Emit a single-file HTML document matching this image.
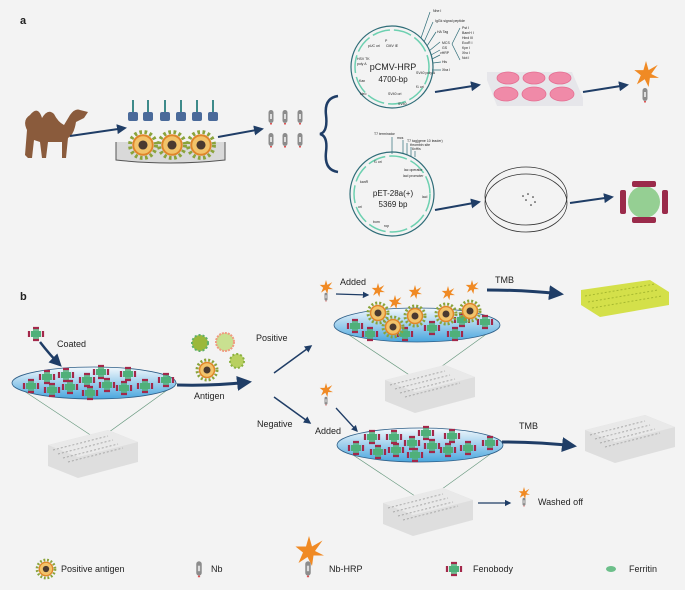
<!DOCTYPE html>
<html><head><meta charset="utf-8"><style>
html,body{margin:0;padding:0;background:#f3f3f3}
svg{display:block}
text{font-family:"Liberation Sans",sans-serif;fill:#222}
</style></head><body>
<svg width="685" height="590" viewBox="0 0 685 590" xmlns="http://www.w3.org/2000/svg">
<defs>
<linearGradient id="blu" x1="0" y1="0" x2="0" y2="1"><stop offset="0" stop-color="#f3f8fc"/><stop offset="1" stop-color="#4aa6de"/></linearGradient>
<marker id="ah" viewBox="0 0 10 10" refX="8" refY="5" markerWidth="5" markerHeight="5" orient="auto"><path d="M0,0 L10,5 L0,10 z" fill="#1f3d66"/></marker>
<g id="feno"><rect x="-5" y="-3" width="10" height="6" fill="#4fb07a"/><rect x="-3" y="-5" width="6" height="10" fill="#4fb07a" opacity=".8"/><path d="M-7,-3v6M7,-3v6M-3,-6h6M-3,6h6" stroke="#a3284a" stroke-width="2.2"/></g>
<g id="ag"><circle r="10" fill="none" stroke="#8aa33a" stroke-width="3" stroke-dasharray="2 2"/><circle r="7.5" fill="#f2c36a" stroke="#e0862a" stroke-width="1.5"/><circle r="3.5" fill="#4a3a30"/></g>
<g id="nb"><rect x="-2.5" y="-7" width="5" height="13" rx="2.5" fill="#8c8c8c"/><rect x="-1" y="-3" width="2" height="5" fill="#ddd"/><rect x="-1" y="6" width="2" height="1.5" fill="#d55"/></g>
<g id="star"><path d="M0,-10 L2,-3 9,-7 4,0 10,3 3,3 2,10 -1,4 -7,8 -4,1 -9,-3 -2,-3z" fill="#f08a24"/></g>
<g id="plate"><path d="M0,15 L60,0 L90,12 L90,32 L30,48 L0,36z" fill="#d8d8d8" opacity=".8"/><path d="M0,15 L60,0 L90,12 L30,27z" fill="#e9e9e9"/><path d="M5,20 l55,-14 M10,24 l55,-14 M15,28 l55,-14 M20,32 l55,-14" stroke="#aaa" stroke-width="1" stroke-dasharray="2 2"/></g>
</defs>

<!-- Panel a -->
<text x="20" y="24" font-size="11" font-weight="bold">a</text>
<!-- camel -->
<path d="M25,155 L27,130 Q22,120 30,115 Q38,105 42,118 Q48,108 54,114 Q58,122 64,125 L70,115 Q75,108 80,110 L88,112 L84,118 L76,122 Q74,135 68,138 L66,158 L62,158 L62,142 L48,142 L46,158 L42,158 L40,142 L34,140 L32,158 L28,158z" fill="#8a5b3c"/>
<line x1="70" y1="136" x2="125" y2="128" stroke="#1f3d66" stroke-width="2" marker-end="url(#ah)"/>
<!-- tray -->
<path d="M116,142 L116,160 Q170,166 225,160 L225,142" fill="#d9d9d9" stroke="#555"/>
<g fill="#4a6a9a"><rect x="128" y="112" width="10" height="9" rx="2"/><rect x="143" y="112" width="10" height="9" rx="2"/><rect x="160" y="112" width="10" height="9" rx="2"/><rect x="176" y="112" width="10" height="9" rx="2"/><rect x="192" y="112" width="10" height="9" rx="2"/><rect x="208" y="112" width="10" height="9" rx="2"/></g>
<g stroke="#3d8a8a" stroke-width="2"><path d="M133,100v12M148,100v12M165,100v12M181,100v12M197,100v12M213,100v12"/></g>
<use href="#ag" transform="translate(143,145) scale(1.3)"/>
<use href="#ag" transform="translate(172,145) scale(1.3)"/>
<use href="#ag" transform="translate(201,145) scale(1.3)"/>
<line x1="218" y1="137" x2="262" y2="129" stroke="#1f3d66" stroke-width="2" marker-end="url(#ah)"/>
<use href="#nb" x="271" y="117"/><use href="#nb" x="285" y="117"/><use href="#nb" x="300" y="117"/>
<use href="#nb" x="271" y="140"/><use href="#nb" x="285" y="140"/><use href="#nb" x="300" y="140"/>
<path d="M338,96 Q324,98 326,115 Q328,132 320,134 Q328,136 326,152 Q324,170 338,172" fill="none" stroke="#1f3d66" stroke-width="2.5"/>
<!-- plasmid 1 -->
<circle cx="392" cy="67" r="41" fill="none" stroke="#2f6d78" stroke-width="1.2"/>
<circle cx="392" cy="67" r="37" fill="none" stroke="#6cd0b0" stroke-width="1.5" stroke-dasharray="18 4"/>
<text x="393" y="70" font-size="9" text-anchor="middle">pCMV-HRP</text>
<text x="393" y="82" font-size="8" text-anchor="middle">4700-bp</text>
<g font-size="3.5"><text x="385" y="42">P</text><text x="386" y="47">CMV IE</text><text x="368" y="47">pUC ori</text><text x="357" y="60">HSV TK</text><text x="357" y="65">poly A</text><text x="359" y="82">Kan</text><text x="360" y="95">Neo</text><text x="388" y="95">SV40 ori</text><text x="398" y="105">SV40</text><text x="416" y="74">SV40 poly A</text><text x="416" y="88">f1 ori</text>
<text x="433" y="12">Nhe I</text><text x="435" y="22">IgGk signal peptide</text><text x="437" y="33">HA Tag</text><text x="442" y="44">MCS</text><text x="442" y="49">GS</text><text x="440" y="54">vHRP</text><text x="442" y="63">His</text><text x="442" y="71">Xba I</text><text x="462" y="29">Pst I</text><text x="462" y="34">BamH I</text><text x="462" y="39">Hind III</text><text x="462" y="44">EcoR I</text><text x="462" y="49">Kpn I</text><text x="462" y="54">Xho I</text><text x="462" y="59">Not I</text></g>
<path d="M421,38 L430,12 M424,42 L433,22 M427,46 L436,32 M429,51 L440,42 M431,55 L440,50 M432,59 L440,55 M433,63 L441,62 M432,70 L441,70" stroke="#2f6d78" stroke-width=".7"/>
<path d="M452,44 L460,28 M452,44 L460,60" stroke="#2f6d78" stroke-width=".7" fill="none"/>
<!-- plasmid 2 -->
<circle cx="392" cy="194" r="42" fill="none" stroke="#2f6d78" stroke-width="1.2"/>
<circle cx="392" cy="194" r="38" fill="none" stroke="#6cd0b0" stroke-width="1.5" stroke-dasharray="18 4"/>
<text x="393" y="196" font-size="8" text-anchor="middle">pET-28a(+)</text>
<text x="393" y="207" font-size="8" text-anchor="middle">5369 bp</text>
<g font-size="3.5"><text x="374" y="163">f1 ori</text><text x="360" y="183">kanR</text><text x="358" y="208">ori</text><text x="373" y="223">bom</text><text x="384" y="227">rop</text><text x="404" y="171">lac operator</text><text x="403" y="177">lacI promoter</text><text x="422" y="198">lacI</text><text x="374" y="135">T7 terminator</text><text x="397" y="139">mcs</text><text x="407" y="142">T7 tag(gene 10 leader)</text><text x="410" y="146">thrombin site</text><text x="412" y="150">6xHis</text></g>
<path d="M392,137v17M403,140v14M407,143v12M411,147v10M415,151v6" stroke="#2f6d78" stroke-width=".7"/>
<!-- well plate -->
<path d="M487,72 L572,72 L583,98 L583,106 L497,106 L487,80z" fill="#e6e6ea"/>
<g fill="#f08aa8" stroke="#e56e92" stroke-width=".8"><ellipse cx="508" cy="78" rx="11" ry="6"/><ellipse cx="534" cy="78" rx="11" ry="6"/><ellipse cx="560" cy="78" rx="11" ry="6"/><ellipse cx="506" cy="94" rx="12" ry="7"/><ellipse cx="534" cy="94" rx="12" ry="7"/><ellipse cx="562" cy="94" rx="12" ry="7"/></g>
<line x1="435" y1="92" x2="479" y2="85" stroke="#1f3d66" stroke-width="2" marker-end="url(#ah)"/>
<line x1="583" y1="92" x2="627" y2="85" stroke="#1f3d66" stroke-width="2" marker-end="url(#ah)"/>
<use href="#star" transform="translate(646,74) scale(1.3)"/>
<use href="#nb" x="645" y="95"/>
<!-- petri -->
<ellipse cx="526" cy="196" rx="41" ry="29" fill="none" stroke="#333" stroke-width=".8"/>
<ellipse cx="526" cy="203" rx="41" ry="29" fill="none" stroke="#333" stroke-width=".8"/>
<g fill="#222"><circle cx="523" cy="196" r=".8"/><circle cx="528" cy="194" r=".8"/><circle cx="533" cy="197" r=".8"/><circle cx="526" cy="200" r=".8"/><circle cx="535" cy="202" r=".8"/><circle cx="531" cy="205" r=".8"/></g>
<line x1="435" y1="210" x2="479" y2="202" stroke="#1f3d66" stroke-width="2" marker-end="url(#ah)"/>
<line x1="570" y1="203" x2="612" y2="197" stroke="#1f3d66" stroke-width="2" marker-end="url(#ah)"/>
<!-- ferritin cage -->
<circle cx="644" cy="202" r="16" fill="#6cbf6a" opacity=".7"/>
<g fill="#9a2a4a"><rect x="620" y="190" width="6" height="24" rx="2"/><rect x="662" y="190" width="6" height="24" rx="2"/><rect x="632" y="181" width="24" height="6" rx="2"/><rect x="632" y="217" width="24" height="6" rx="2"/></g>

<!-- Panel b -->
<text x="20" y="300" font-size="11" font-weight="bold">b</text>
<use href="#feno" x="36" y="334"/>
<text x="57" y="347" font-size="9">Coated</text>
<path d="M40,342 Q50,355 60,365" stroke="#1f3d66" stroke-width="2.5" fill="none" marker-end="url(#ah)"/>
<path d="M12,383 L98,440 L177,383" fill="none" stroke="#6a9a80" stroke-width=".7"/>
<use href="#plate" transform="translate(48,430)"/>
<ellipse cx="94" cy="383" rx="82" ry="16" fill="url(#blu)" stroke="#2f5f88" stroke-width=".8"/>
<g><use href="#feno" x="31" y="386"/><use href="#feno" x="47" y="377"/><use href="#feno" x="52" y="390"/><use href="#feno" x="66" y="375"/><use href="#feno" x="70" y="387"/><use href="#feno" x="87" y="380"/><use href="#feno" x="90" y="393"/><use href="#feno" x="101" y="372"/><use href="#feno" x="107" y="385"/><use href="#feno" x="124" y="388"/><use href="#feno" x="128" y="374"/><use href="#feno" x="145" y="386"/><use href="#feno" x="166" y="380"/></g>
<use href="#ag" x="207" y="370"/>
<circle cx="200" cy="343" r="8" fill="#9bb83a" stroke="#5fb06a" stroke-width="2" stroke-dasharray="2 2"/>
<circle cx="225" cy="342" r="9" fill="#c9e090" stroke="#f09a80" stroke-width="2" stroke-dasharray="2 1"/>
<circle cx="237" cy="361" r="7" fill="#b8d060" stroke="#8ab040" stroke-width="2" stroke-dasharray="2 2"/>
<path d="M177,385 Q215,386 249,382" stroke="#1f3d66" stroke-width="3" fill="none" marker-end="url(#ah)"/>
<text x="194" y="399" font-size="9">Antigen</text>
<text x="256" y="341" font-size="9">Positive</text>
<text x="257" y="427" font-size="9">Negative</text>
<line x1="274" y1="373" x2="311" y2="346" stroke="#1f3d66" stroke-width="1.5" marker-end="url(#ah)"/>
<line x1="274" y1="397" x2="310" y2="423" stroke="#1f3d66" stroke-width="1.5" marker-end="url(#ah)"/>

<!-- top positive -->
<use href="#star" transform="translate(326,287) scale(.7)"/><use href="#nb" transform="translate(326,297) scale(.6)"/>
<text x="340" y="285" font-size="9">Added</text>
<line x1="336" y1="294" x2="368" y2="295" stroke="#1f3d66" stroke-width="1.3" marker-end="url(#ah)"/>
<path d="M334,325 L420,382 L499,325" fill="none" stroke="#6a9a80" stroke-width=".7"/>
<use href="#plate" transform="translate(385,365)"/>
<ellipse cx="417" cy="325" rx="83" ry="17" fill="url(#blu)" stroke="#2f5f88" stroke-width=".8"/>
<g><use href="#feno" x="355" y="326"/><use href="#feno" x="370" y="334"/><use href="#feno" x="405" y="334"/><use href="#feno" x="432" y="328"/><use href="#feno" x="455" y="334"/><use href="#feno" x="485" y="322"/><use href="#feno" x="462" y="320"/></g>
<use href="#ag" x="378" y="313"/><use href="#ag" x="393" y="327"/><use href="#ag" x="415" y="316"/><use href="#ag" x="446" y="314"/><use href="#ag" x="470" y="311"/>
<use href="#star" transform="translate(378,290) scale(.7)"/><use href="#star" transform="translate(395,302) scale(.7)"/><use href="#star" transform="translate(415,292) scale(.7)"/><use href="#star" transform="translate(448,293) scale(.7)"/><use href="#star" transform="translate(472,287) scale(.7)"/>
<text x="495" y="283" font-size="9">TMB</text>
<path d="M487,290 Q525,290 561,294" stroke="#1f3d66" stroke-width="3" fill="none" marker-end="url(#ah)"/>
<path d="M581,290 L650,280 L669,292 L669,305 L600,317 L581,305z" fill="#d4e04a"/>
<path d="M585,296 l70,-12 M588,302 l70,-12 M592,308 l70,-12" stroke="#a6b830" stroke-dasharray="2 2"/>

<!-- bottom negative -->
<use href="#star" transform="translate(326,390) scale(.7)"/><use href="#nb" transform="translate(326,401) scale(.6)"/>
<text x="315" y="434" font-size="9">Added</text>
<line x1="336" y1="408" x2="357" y2="431" stroke="#1f3d66" stroke-width="1.3" marker-end="url(#ah)"/>
<path d="M338,445 L424,502 L503,445" fill="none" stroke="#6a9a80" stroke-width=".7"/>
<use href="#plate" transform="translate(383,488)"/>
<ellipse cx="420" cy="445" rx="83" ry="17" fill="url(#blu)" stroke="#2f5f88" stroke-width=".8"/>
<g><use href="#feno" x="356" y="448"/><use href="#feno" x="372" y="437"/><use href="#feno" x="378" y="452"/><use href="#feno" x="394" y="437"/><use href="#feno" x="396" y="450"/><use href="#feno" x="412" y="443"/><use href="#feno" x="415" y="455"/><use href="#feno" x="426" y="433"/><use href="#feno" x="432" y="446"/><use href="#feno" x="448" y="450"/><use href="#feno" x="452" y="436"/><use href="#feno" x="468" y="448"/><use href="#feno" x="490" y="443"/></g>
<text x="519" y="429" font-size="9">TMB</text>
<path d="M502,442 Q540,442 574,446" stroke="#1f3d66" stroke-width="3" fill="none" marker-end="url(#ah)"/>
<use href="#plate" transform="translate(585,415)"/>
<line x1="478" y1="503" x2="510" y2="503" stroke="#1f3d66" stroke-width="1.3" marker-end="url(#ah)"/>
<use href="#star" transform="translate(524,493) scale(.6)"/><use href="#nb" transform="translate(524,502) scale(.6)"/>
<text x="538" y="505" font-size="9">Washed off</text>

<!-- legend -->
<use href="#ag" transform="translate(46,569) scale(.9)"/>
<text x="61" y="572" font-size="9">Positive antigen</text>
<use href="#nb" transform="translate(199,569) scale(1.1)"/>
<text x="211" y="572" font-size="9">Nb</text>
<use href="#star" transform="translate(309,551) scale(1.5)"/>
<use href="#nb" transform="translate(308,569) scale(1.1)"/>
<text x="329" y="572" font-size="9">Nb-HRP</text>
<use href="#feno" x="454" y="569"/>
<text x="473" y="572" font-size="9">Fenobody</text>
<ellipse cx="611" cy="569" rx="5" ry="3" fill="#6cbf8a"/>
<text x="629" y="572" font-size="9">Ferritin</text>
</svg>
</body></html>
